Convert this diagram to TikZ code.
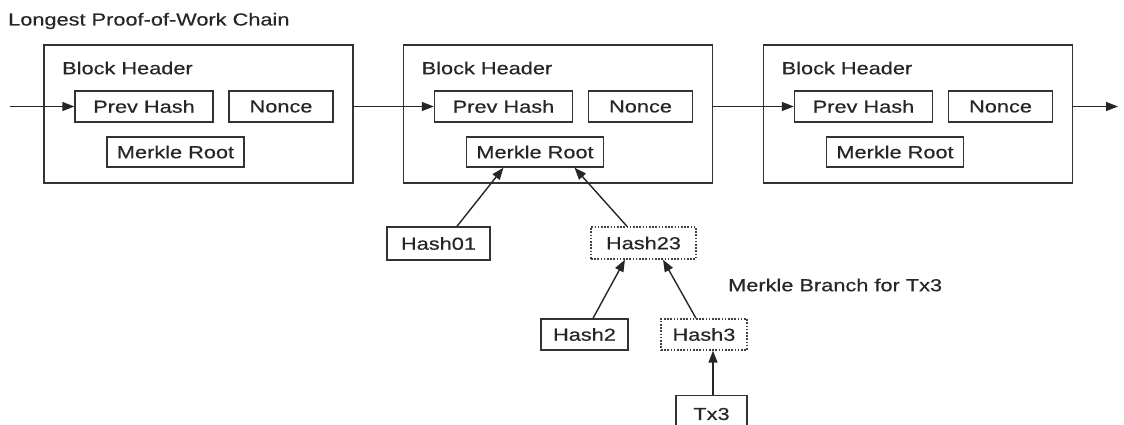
\documentclass[tikz,border=0pt]{standalone}
\usepackage{fontspec}
\setmainfont[FakeStretch=1.25,FakeBold=0.4]{Liberation Sans}
\usetikzlibrary{arrows.meta,calc}
\begin{document}
\begin{tikzpicture}[x=1pt,y=-1pt,
  every node/.style={font=\fontsize{17.4}{20}\selectfont, text=black!85},
  box/.style={draw=black!80, line width=1.4pt, inner sep=0pt, fill=white},
  dbox/.style={draw=black!75, line width=1.3pt, dash pattern=on 1.6pt off 1.6pt, inner sep=0pt, fill=white},
  blk/.style={draw=black!80, line width=1.4pt, inner sep=0pt, minimum width=309pt, minimum height=138pt},
  arr/.style={draw=black!85, line width=1.4pt, -{Triangle[length=12pt,width=9pt]}},
  lbl/.style={inner sep=0pt, anchor=west}]
\clip (0,0) rectangle (1124,425);
\useasboundingbox (0,0) rectangle (1124,425);
\node[lbl] (title) at (8,21) {Longest Proof-of-Work Chain};
% blocks
\foreach \i/\dx in {1/0,2/359.5,3/719.5}{
  \node[blk] (b\i) at (198.5+\dx,114) {};
  \node[lbl] (bh\i) at (62+\dx,68) {Block Header};
  \node[box, minimum width=138pt, minimum height=31pt] (ph\i) at (144+\dx,106.5) {Prev Hash};
  \node[box, minimum width=104pt, minimum height=31pt] (nc\i) at (281+\dx,106.5) {Nonce};
  \node[box, minimum width=137pt, minimum height=30pt] (mr\i) at (175.5+\dx,152) {Merkle Root};
}
\coordinate (in) at (10,106.5);
\coordinate (out) at (1118,106.5);
\draw[arr] (in) -- (ph1.west);
\draw[arr] (b1.east |- ph1) -- (ph2.west);
\draw[arr] (b2.east |- ph2) -- (ph3.west);
\draw[arr] (b3.east |- ph3) -- (out);
% merkle tree
\node[box, minimum width=103pt, minimum height=33pt] (h01) at (438.5,243.5) {Hash01};
\node[dbox, minimum width=105pt, minimum height=32pt] (h23) at (643.5,243) {Hash23};
\node[box, minimum width=87pt, minimum height=31pt] (h2) at (584.5,334.5) {Hash2};
\node[dbox, minimum width=86pt, minimum height=31pt] (h3) at (704,334.5) {Hash3};
\node[box, minimum width=71pt, minimum height=50pt, anchor=north] (tx3) at (711.5,395) {};
\node[inner sep=0pt] (tx3t) at (711.5,414) {Tx3};
\node[lbl] (branch) at (728,285) {Merkle Branch for Tx3};
\draw[arr] ([xshift=18.5pt]h01.north) -- ([xshift=-31.5pt]mr2.south);
\draw[arr] ([xshift=-16.5pt]h23.north) -- ([xshift=39.5pt]mr2.south);
\draw[arr] ([xshift=8.5pt]h2.north) -- ([xshift=-18.5pt]h23.south);
\draw[arr] ([xshift=-8pt]h3.north) -- ([xshift=19.5pt]h23.south);
\draw[arr] ([xshift=1.5pt]tx3.north) -- ([xshift=9pt]h3.south);
\end{tikzpicture}
\end{document}
